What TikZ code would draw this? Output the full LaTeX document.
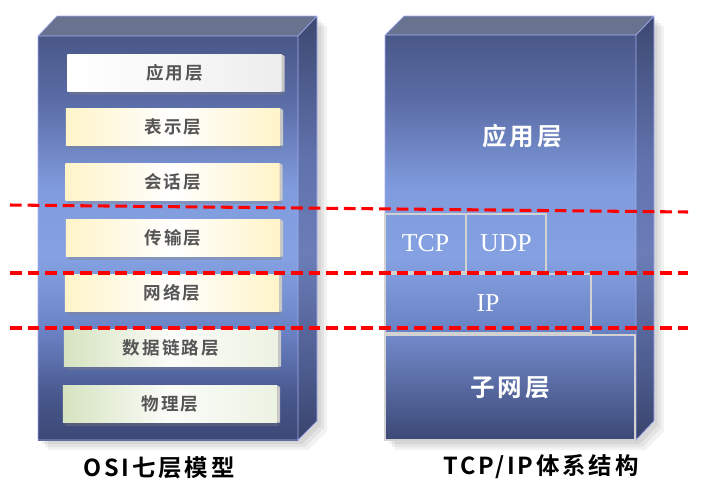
\documentclass[tikz,border=0pt]{standalone}
\usepackage{fontspec}
\setmainfont{Liberation Serif}
\newfontfamily\cjk{Noto Sans CJK SC}[BoldFont={Noto Sans CJK SC Bold}]
\usetikzlibrary{calc}
\usetikzlibrary{shadows}

\definecolor{topFace}{HTML}{687390}
\definecolor{edgeBlue}{HTML}{A4ACF0}
\definecolor{labelGray}{HTML}{555555}
\definecolor{paleYellow}{HTML}{FFF4C8}
\definecolor{paleGreen}{HTML}{D6E3C0}
\definecolor{boxGray}{HTML}{D2D2D2}

\pgfdeclareverticalshading{stackface}{100bp}{
  rgb(0bp)=(0.235,0.282,0.463); rgb(25bp)=(0.235,0.282,0.463);
  rgb(30bp)=(0.275,0.333,0.541); rgb(38.5bp)=(0.416,0.510,0.769);
  rgb(47.5bp)=(0.522,0.631,0.886); rgb(56bp)=(0.502,0.612,0.867);
  rgb(67bp)=(0.353,0.424,0.651); rgb(75bp)=(0.290,0.345,0.533);
  rgb(100bp)=(0.290,0.345,0.533)}
\pgfdeclareverticalshading{stackside}{100bp}{
  rgb(0bp)=(0.220,0.267,0.420); rgb(25bp)=(0.220,0.267,0.420);
  rgb(32bp)=(0.290,0.345,0.540); rgb(47bp)=(0.420,0.490,0.720);
  rgb(58bp)=(0.380,0.450,0.680); rgb(75bp)=(0.235,0.282,0.440);
  rgb(100bp)=(0.235,0.282,0.440)}

\tikzset{
  layer/.style={minimum width=6.42cm, minimum height=1.11cm, inner sep=0pt,
    font=\cjk\bfseries\fontsize{15}{15}\selectfont\addfontfeature{LetterSpace=12}, text=labelGray,
    drop shadow={opacity=0.35, shadow xshift=2pt, shadow yshift=-3pt}},
  applayer/.style={layer, left color=white, right color=black!7, middle color=white!97!black},
  midlayer/.style={layer, left color=paleYellow, right color=paleYellow, middle color=white},
  lowlayer/.style={layer, left color=paleGreen, right color=paleGreen!45, middle color=white!90!paleGreen},
  bevel/.style={fill=black!22},
  proto/.style={draw=boxGray, line width=2.4pt, inner sep=0pt, text=white,
    font=\fontsize{22}{22}\selectfont},
  bigcjk/.style={font=\cjk\bfseries\fontsize{21}{21}\selectfont\addfontfeature{LetterSpace=12}},
  cut/.style={red, line width=2.6pt, dash pattern=on 10pt off 5pt},
  caption/.style={font=\cjk\bfseries\fontsize{20}{20}\selectfont\addfontfeature{LetterSpace=12}}
}

\begin{document}
\begin{tikzpicture}[x=0.03cm, y=-0.03cm]
  \useasboundingbox (0,0) rectangle (712,494);

  % shadows of the two stacks
  \foreach \d/\o in {4/0.06, 7/0.06, 10/0.05} {
    \fill[black, opacity=\o] (38+\d,36+\d) -- (57+\d,16+\d) -- (317+\d,16+\d) -- (317+\d,421+\d) -- (298+\d,440+\d) -- (38+\d,440+\d) -- cycle;
    \fill[black, opacity=\o] (385+\d,35+\d) -- (404+\d,16+\d) -- (654+\d,16+\d) -- (654+\d,421+\d) -- (636+\d,440+\d) -- (385+\d,440+\d) -- cycle;
  }

  % OSI stack
  \shade[shading=stackface] (38,36) rectangle (298,440);
  \fill[topFace] (38,36) -- (57,16) -- (317,16) -- (298,36) -- cycle;
  \shade[shading=stackside] (298,36) -- (317,16) -- (317,421) -- (298,440) -- cycle;
  \draw[edgeBlue, line width=0.6pt] (38,440) -- (38,36) -- (57,16) -- (317,16) -- (317,421) -- (298,440) -- cycle (38,36) -- (298,36) -- (317,16) (298,36) -- (298,440);

  % TCP/IP stack
  \shade[shading=stackface] (385,35) rectangle (636,440);
  \fill[topFace] (385,35) -- (404,16) -- (654,16) -- (636,35) -- cycle;
  \shade[shading=stackside] (636,35) -- (654,16) -- (654,421) -- (636,440) -- cycle;
  \draw[edgeBlue, line width=0.6pt] (385,440) -- (385,35) -- (404,16) -- (654,16) -- (654,421) -- (636,440) -- cycle (385,35) -- (636,35) -- (654,16) (636,35) -- (636,440);

  \node[applayer] (app) at (174.5,73) {应用层};
  \node[midlayer] (pres) at (173,127) {表示层};
  \node[midlayer] (sess) at (172.5,182) {会话层};
  \node[midlayer] (trans) at (173,238) {传输层};
  \node[midlayer] (net) at (172,293) {网络层};
  \node[lowlayer] (link) at (171,348) {数据链路层};
  \node[lowlayer] (phys) at (170,404) {物理层};
  \foreach \n in {app, pres, sess, trans, net, link, phys}
    \fill[bevel] (\n.north east) -- ++(3,2) -- ($(\n.south east)+(3,0)$) -- (\n.south east) -- cycle;

  \node[text=white, bigcjk] (tapp) at (522,136) {应用层};
  \node[proto, minimum width=2.43cm, minimum height=1.74cm] (tcp) at (425.5,243) {TCP};
  \node[proto, minimum width=2.4cm, minimum height=1.74cm] (udp) at (506,243) {UDP};
  \node[proto, minimum width=6.18cm, minimum height=1.77cm] (ip) at (488,303.5) {IP};
  \node[proto, minimum width=7.5cm, minimum height=3.15cm, top color={rgb,255:red,114;green,138;blue,202},
    bottom color={rgb,255:red,60;green,72;blue,118}, bigcjk] (subnet) at (510,387.5) {子网层};

  \coordinate (cutA1) at (10,205);
  \coordinate (cutA2) at (688,212);
  \coordinate (cutB1) at (10,273);
  \coordinate (cutB2) at (688,273);
  \coordinate (cutC1) at (10,328);
  \coordinate (cutC2) at (688,328);
  \draw[cut] (cutA1) -- (cutA2);
  \draw[cut] (cutB1) -- (cutB2);
  \draw[cut] (cutC1) -- (cutC2);

  \node[caption] (osi) at (159,468) {OSI七层模型};
  \node[caption] (tcpip) at (541,467) {TCP/IP体系结构};
\end{tikzpicture}
\end{document}
